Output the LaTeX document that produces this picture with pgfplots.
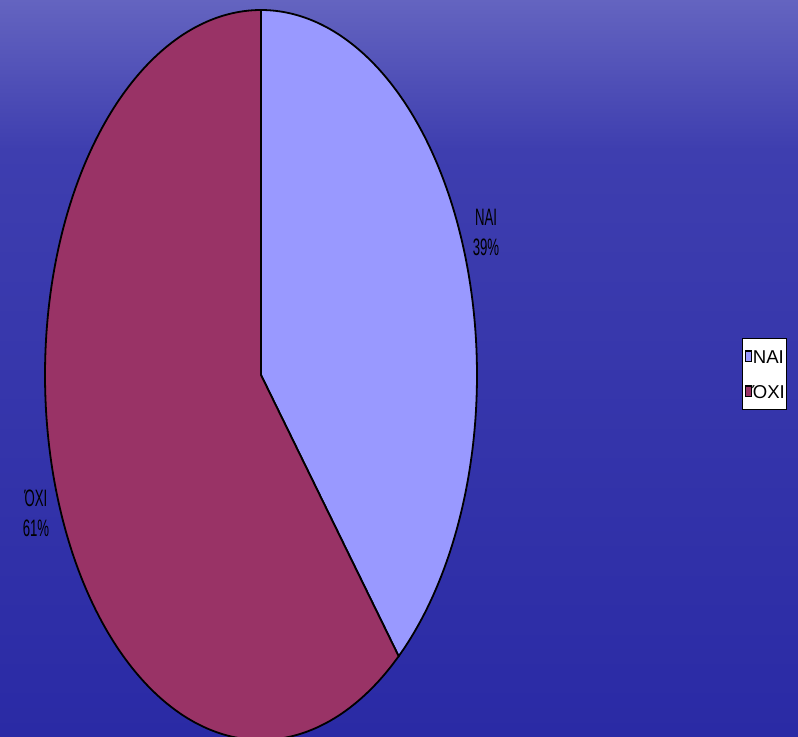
\documentclass[border=0pt]{standalone}
\usepackage{pgfplots}
\pgfplotsset{compat=1.18}
\usepackage{graphicx}
\usepackage{fontspec}
\setmainfont{Liberation Sans}
\definecolor{naicol}{RGB}{153,153,255}
\definecolor{oxicol}{RGB}{153,51,102}
\definecolor{bgtop}{RGB}{100,100,192}
\definecolor{bgmid}{RGB}{62,62,175}
\definecolor{bgbot}{RGB}{42,42,165}
% data (percent)
\def\valNAI{39}
\def\valOXI{61}
\newcommand{\vs}[1]{\scalebox{1}[1.8]{#1}}
\begin{document}
\begin{tikzpicture}
\pgfmathsetmacro{\aA}{90-3.6*\valNAI}
\pgfmathsetmacro{\aB}{\aA-3.6*\valOXI}
\begin{axis}[
  width=399pt, height=368.5pt, scale only axis,
  xmin=0, xmax=798, ymin=0, ymax=737, y dir=reverse,
  axis lines=none, clip=true,
  legend style={at={(axis cs:742,338)}, anchor=north west, draw=black, fill=white,
    line width=0.5pt, font=\fontsize{9.3}{10}\selectfont, inner xsep=1pt, inner ysep=5.5pt,
    row sep=10.5pt, column sep=0pt,
    nodes={inner xsep=0pt, inner ysep=0pt, text height=7pt, text depth=0pt}},
  legend cell align=left,
  legend image code/.code={\draw[#1, draw=black, line width=0.6pt] (0pt,-2.7pt) rectangle (3.3pt,2.7pt);},
]
\fill[top color=bgtop, bottom color=bgmid] (axis cs:0,0) rectangle (axis cs:798,150);
\fill[top color=bgmid, bottom color=bgbot] (axis cs:0,149) rectangle (axis cs:798,737);
\addplot[fill=naicol, draw=black, line width=0.9pt, domain=\aA:90, samples=150, variable=\t]
  ({261+216*cos(\t)},{375-365*sin(\t)}) -- (axis cs:261,375) -- cycle;
\addlegendentry{\hspace{0.3pt}NAI\hspace{2.5pt}}
\addplot[fill=oxicol, draw=black, line width=0.9pt, domain=\aB:\aA, samples=200, variable=\t]
  ({261+216*cos(\t)},{375-365*sin(\t)}) -- (axis cs:261,375) -- cycle;
\addlegendentry{\hspace{0.3pt}ΌΧΙ\hspace{2.5pt}}
\node[font=\fontsize{6.6}{8}\selectfont] at (axis cs:486,217) {\vs{NAI}};
\node[font=\fontsize{6.6}{8}\selectfont] at (axis cs:486,247) {\vs{39\%}};
\node[font=\fontsize{6.6}{8}\selectfont] at (axis cs:36,498) {\vs{ΌΧΙ}};
\node[font=\fontsize{6.6}{8}\selectfont] at (axis cs:36,528) {\vs{61\%}};
\end{axis}
\end{tikzpicture}
\end{document}
